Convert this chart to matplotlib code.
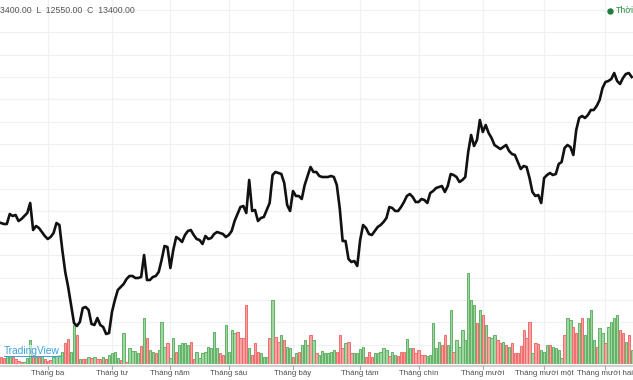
import matplotlib
matplotlib.use("Agg")
import matplotlib.pyplot as plt
from matplotlib.lines import Line2D

# ---------------- data ----------------
closes = [
    11940, 11930, 11930, 12030, 12010, 12020, 11960, 11980, 12010, 12040,
    12140, 11870, 11910, 11890, 11850, 11810, 11780, 11800, 11840, 11940,
    11920, 11670, 11450, 11300, 11120, 10940, 10910, 10950, 11090, 11100,
    11070, 10930, 10920, 10990, 10920, 10900, 10830, 10840, 11050, 11170,
    11270, 11300, 11330, 11380, 11410, 11410, 11390, 11390, 11400, 11620,
    11370, 11370, 11400, 11410, 11450, 11570, 11710, 11700, 11490, 11670,
    11800, 11780, 11750, 11820, 11860, 11870, 11820, 11780, 11770, 11730,
    11810, 11780, 11790, 11830, 11850, 11840, 11830, 11800, 11820, 11860,
    11960, 12030, 12100, 12110, 12040, 12370, 12060, 12070, 11960, 11990,
    12000, 12070, 12140, 12420, 12450, 12440, 12430, 12340, 12120, 12060,
    12260, 12210, 12210, 12180, 12320, 12410, 12500, 12450, 12450, 12410,
    12400, 12400, 12400, 12410, 12400, 12320, 12090, 11760, 11760, 11580,
    11550, 11560, 11510, 11770, 11920, 11890, 11830, 11820, 11860, 11900,
    11920, 11950, 11990, 12100, 12090, 12060, 12060, 12100, 12150, 12210,
    12230, 12200, 12150, 12150, 12180, 12170, 12140, 12240, 12260, 12290,
    12300, 12310, 12250, 12310, 12430, 12420, 12400, 12350, 12370, 12400,
    12650, 12820, 12710, 12770, 12970, 12850, 12920, 12840, 12790, 12720,
    12700, 12680, 12700, 12720, 12660, 12630, 12620, 12550, 12480, 12510,
    12500, 12390, 12250, 12210, 12220, 12140, 12390, 12420, 12440, 12420,
    12430, 12530, 12550, 12690, 12720, 12700, 12620, 12870, 12990, 13010,
    12990, 13020, 13070, 13070, 13110, 13170, 13290, 13350, 13360, 13380,
    13440, 13360, 13330, 13390, 13430, 13440, 13400,
]

volumes_k = [
    70, 60, 80, 70, 70, 50, 30, 20, 20, 60,
    240, 70, 70, 70, 80, 50, 30, 40, 70, 80,
    90, 120, 210, 250, 120, 390, 290, 50, 50, 50,
    70, 60, 70, 50, 50, 70, 50, 90, 110, 120,
    60, 40, 310, 20, 160, 130, 130, 110, 180, 460,
    260, 140, 120, 110, 140, 420, 170, 210, 60, 260,
    120, 190, 210, 210, 190, 220, 50, 120, 60, 110,
    120, 170, 160, 320, 160, 110, 90, 390, 120, 340,
    310, 320, 260, 260, 590, 160, 90, 210, 120, 110,
    70, 70, 260, 640, 270, 220, 290, 240, 170, 160,
    70, 110, 120, 190, 240, 190, 290, 240, 110, 90,
    130, 110, 110, 120, 140, 120, 290, 160, 210, 220,
    110, 110, 110, 150, 170, 70, 120, 70, 110, 110,
    120, 160, 140, 80, 120, 90, 80, 120, 120, 250,
    160, 160, 110, 140, 90, 90, 80, 90, 410, 160,
    220, 190, 290, 190, 540, 120, 240, 170, 340, 240,
    910, 640, 590, 410, 540, 490, 390, 270, 260, 290,
    240, 210, 220, 190, 170, 210, 110, 110, 180, 340,
    260, 420, 110, 210, 200, 140, 120, 190, 190, 170,
    160, 140, 60, 290, 460, 440, 370, 310, 410, 460,
    290, 460, 540, 240, 170, 360, 310, 210, 370, 420,
    460, 490, 340, 310, 220, 290, 140,
]

# 'g' = up bar, 'r' = down bar
volume_dir = (
    "rrggrrrrgg" "grgrgrrrgg" "ggrrggrgrr" "grgrrgrggg" "grgrggggrg"
    "rggrgggrgg" "rggggrrggg" "gggggrrggg" "grrrrgrrrg" "ggrgrrgrgg"
    "rgrgggrgrg" "gggggrrrgr" "rggggrrrgg" "gggrggrrrg" "grrrrrgggg"
    "grrggrgggg" "gggrgrgrgg" "rrgrgrrrrr" "rrgrrgggrg" "gggrggrrgr"
    "ggggrggrgg" "ggrrgrg"
)

month_bar_index = [16, 38, 58, 78, 100, 123, 143, 165, 186, 207]
month_labels = ["Tháng ba", "Tháng tư", "Tháng năm", "Tháng sáu", "Tháng bảy",
                "Tháng tám", "Tháng chín", "Tháng mười", "Tháng mười một",
                "Tháng mười hai"]

header_text = "3400.00  L  12550.00  C  13400.00"
legend_text = "Thời"

# ---------------- figure ----------------
W, H = 633, 380
fig = plt.figure(figsize=(W / 100, H / 100), dpi=100)
fig.patch.set_facecolor("white")

px_per_bar = 2.92
x0_px = 1.0
xlim = (-x0_px / px_per_bar, (W - x0_px) / px_per_bar)
price_top = 14170
price_per_px = 10
ylim_price = (price_top - H * price_per_px, price_top)

font = "Liberation Sans"
n = len(closes)
xs = list(range(n))

# background grid
ax_bg = fig.add_axes([0, 0, 1, 1], zorder=0)
ax_bg.set_xlim(*xlim)
ax_bg.set_ylim(*ylim_price)
ax_bg.axis("off")
grid_color = "#eff1f4"
for k in range(-3, 13):
    ax_bg.axhline(13400 - 223 * k, color=grid_color, lw=0.9, zorder=0)
for m in month_bar_index:
    ax_bg.axvline(m, ymin=14 / H, ymax=1, color=grid_color, lw=0.9, zorder=0)

# volume
base_px = 364
ax_vol = fig.add_axes([0, (H - base_px) / H, 1, base_px / H], zorder=1)
ax_vol.patch.set_alpha(0)
ax_vol.set_xlim(*xlim)
ax_vol.set_ylim(0, base_px * 10)
ax_vol.axis("off")
fills = ["#a0d6a1" if d == "g" else "#f8a3a3" for d in volume_dir]
edges = ["#62b166" if d == "g" else "#ef6c6c" for d in volume_dir]
ax_vol.bar(xs, volumes_k, width=0.8, color=fills, edgecolor=edges, linewidth=0.7)

# price line
ax = fig.add_axes([0, 0, 1, 1], zorder=2)
ax.patch.set_alpha(0)
ax.set_xlim(*xlim)
ax.set_ylim(*ylim_price)
ax.axis("off")
ax.plot(xs, closes, color="#111111", lw=1.9, solid_joinstyle="round")

# time axis
ax_t = fig.add_axes([0, 0, 1, 1], zorder=3)
ax_t.patch.set_alpha(0)
ax_t.set_xlim(*xlim)
ax_t.set_ylim(0, H)
ax_t.axis("off")
ax_t.axhline(H - 366, color="#cfcfcf", lw=1.4)
for m, lab in zip(month_bar_index, month_labels):
    ax_t.plot([m, m], [H - 366, H - 369], color="#aaaaaa", lw=0.8)
    ax_t.text(m, H - 373.5, lab, ha="center", va="center", fontsize=5.7,
              color="#505050", family=font)

# header and legend
fig.text(0.0, 1 - 10.5 / H, header_text, ha="left", va="center", fontsize=6.3,
         color="#555555", family=font)
fig.text(616 / W, 1 - 10.5 / H, legend_text, ha="left", va="center", fontsize=6.3,
         color="#2e8b45", family=font)
fig.lines.append(Line2D([610 / W], [1 - 10.5 / H], transform=fig.transFigure,
                        marker="o", markersize=3.6, color="#1f7a3c", lw=0, zorder=5))

# TradingView watermark
fig.text(4 / W, 1 - 350.5 / H, "TradingView", ha="left", va="center", fontsize=7.3,
         color="#3aa0dc", family=font, zorder=6,
         bbox=dict(facecolor="white", alpha=0.55, edgecolor="none", pad=0.5))
fig.lines.append(Line2D([4 / W, 61 / W], [1 - 356 / H, 1 - 356 / H],
                        transform=fig.transFigure, color="#3aa0dc", lw=0.7, zorder=7))

fig.savefig("out.png", dpi=100, facecolor="white")
